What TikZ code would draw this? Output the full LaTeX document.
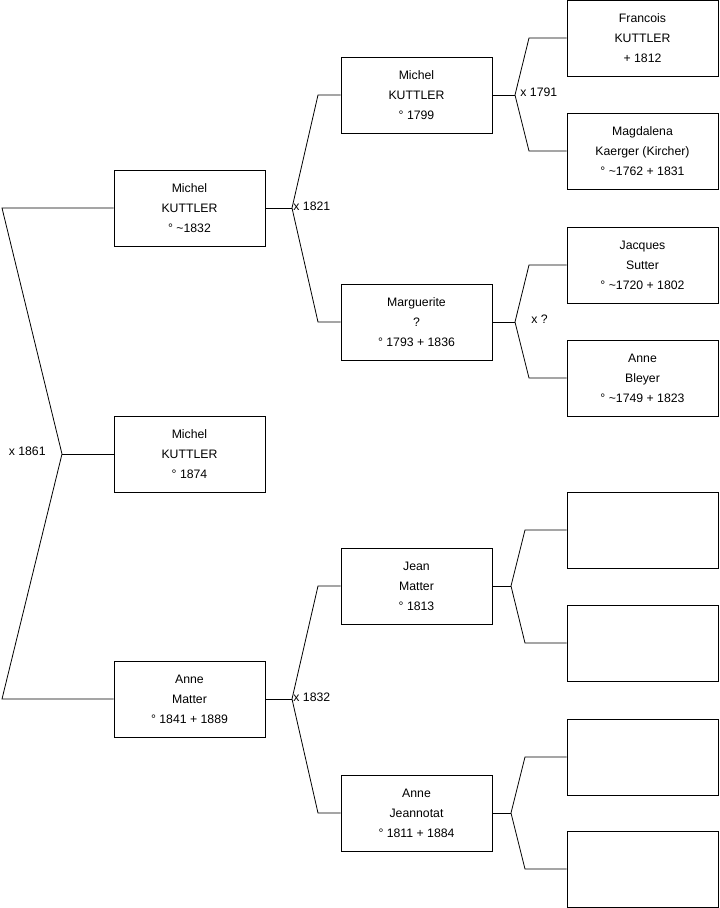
\documentclass[tikz,border=0pt]{standalone}
\usepackage{fontspec}
\newfontfamily\persfamily{Liberation Sans}
\newcommand\persfont{\persfamily\fontsize{9.2}{15}\selectfont}
\begin{document}
\begin{tikzpicture}[x=0.75pt,y=-0.75pt,line width=0.6pt,
	person/.style={draw,minimum width=113.25pt,minimum height=57pt,inner sep=0pt,align=center,font=\persfont},
	wedlock/.style={inner sep=0pt,font=\persfont}]
	\useasboundingbox (0,0) rectangle (719,908);
	% generation 1
	\node[person] (m1832) at (189.5,208) {Michel\\KUTTLER\\° \textasciitilde1832};
	\node[person] (m1874) at (189.5,454) {Michel\\KUTTLER\\° 1874};
	\node[person] (amatter) at (189.5,699) {Anne\\Matter\\° 1841 + 1889};
	% generation 2
	\node[person] (m1799) at (416.5,95) {Michel\\KUTTLER\\° 1799};
	\node[person] (marg) at (416.5,322) {Marguerite\\?\\° 1793 + 1836};
	\node[person] (jean) at (416.5,586) {Jean\\Matter\\° 1813};
	\node[person] (ajean) at (416.5,813) {Anne\\Jeannotat\\° 1811 + 1884};
	% generation 3
	\node[person] (franc) at (642.5,38) {Francois\\KUTTLER\\+ 1812};
	\node[person] (magda) at (642.5,151) {Magdalena\\Kaerger (Kircher)\\° \textasciitilde1762 + 1831};
	\node[person] (jacq) at (642.5,265) {Jacques\\Sutter\\° \textasciitilde1720 + 1802};
	\node[person] (bleyer) at (642.5,378) {Anne\\Bleyer\\° \textasciitilde1749 + 1823};
	\node[person] (e1) at (642.5,530) {};
	\node[person] (e2) at (642.5,643) {};
	\node[person] (e3) at (642.5,757) {};
	\node[person] (e4) at (642.5,869) {};

	% root fork
	\coordinate (j0) at (62,454);
	\coordinate (t0) at (2,208);
	\coordinate (b0) at (2,699);
	\draw (m1832.west) -- (t0) -- (j0) -- (b0) -- (amatter.west);
	\draw (j0) -- (m1874.west);
	\node[wedlock,anchor=east] at (46,451) {x 1861};

	% forks of generation 1
	\coordinate (j1) at (292,208);
	\draw (m1832.east) -- (j1);
	\draw (m1799.west) -- (318,95) -- (j1) -- (318,322) -- (marg.west);
	\node[wedlock,anchor=west] at (293,206) {x 1821};
	\coordinate (j2) at (292,699);
	\draw (amatter.east) -- (j2);
	\draw (jean.west) -- (318,586) -- (j2) -- (318,813) -- (ajean.west);
	\node[wedlock,anchor=west] at (293,697) {x 1832};

	% forks of generation 2
	\coordinate (j3) at (515,95);
	\draw (m1799.east) -- (j3);
	\draw (franc.west) -- (529,38) -- (j3) -- (529,151) -- (magda.west);
	\node[wedlock,anchor=west] at (520,92) {x 1791};
	\coordinate (j4) at (515,322);
	\draw (marg.east) -- (j4);
	\draw (jacq.west) -- (529,265) -- (j4) -- (529,378) -- (bleyer.west);
	\node[wedlock,anchor=west] at (531,319) {x ?};
	\coordinate (j5) at (511,586);
	\draw (jean.east) -- (j5);
	\draw (e1.west) -- (525,530) -- (j5) -- (525,643) -- (e2.west);
	\coordinate (j6) at (511,813);
	\draw (ajean.east) -- (j6);
	\draw (e3.west) -- (525,757) -- (j6) -- (525,869) -- (e4.west);
\end{tikzpicture}
\end{document}
